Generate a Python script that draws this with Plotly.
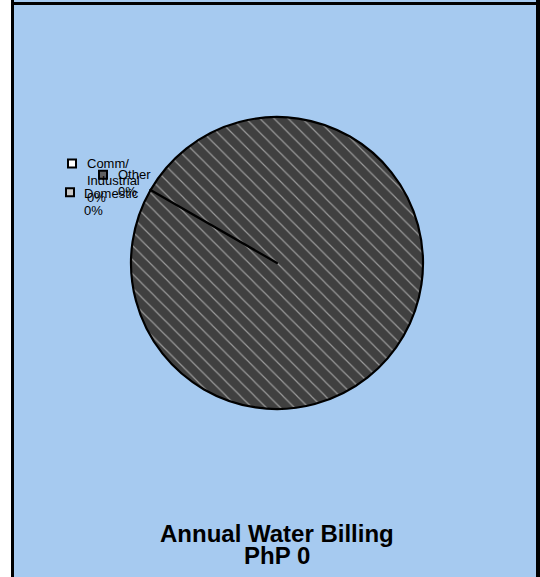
import plotly.graph_objects as go

# ---- data ----
categories = ["Comm/Industrial", "Other", "Domestic"]
billing_php = [0, 0, 0]              # annual billing per category (PhP)
share_labels = ["0%", "0%", "0%"]    # data label percentages as shown
drawn_share = [0, 1, 0]              # slice sizes as drawn (whole disc is "Other")
slice_colors = ["#FFFFFF", "#404040", "#C0C0C0"]
slice_patterns = ["", "\\", ""]
label_lines = [["Comm/", "Industrial"], ["Other"], ["Domestic"]]
title_line = "Annual Water Billing"

W, H = 540, 577
BG = "#A6CAF0"

def px_x(x):
    return x / W

def px_y(y):
    return 1 - y / H

fig = go.Figure()

fig.add_trace(go.Pie(
    labels=categories,
    values=drawn_share,
    sort=False,
    direction="clockwise",
    rotation=-60,
    textinfo="none",
    hoverinfo="label",
    showlegend=False,
    marker=dict(
        colors=slice_colors,
        line=dict(color="#000000", width=2.2),
        pattern=dict(shape=slice_patterns, fgcolor="#9A9A9A", bgcolor=slice_colors,
                     fillmode="replace", size=10, solidity=0.12),
    ),
    domain=dict(x=[px_x(131), px_x(423)], y=[px_y(409), px_y(117)]),
))

shapes = []
# frame pieces
shapes.append(dict(type="rect", xref="paper", yref="paper", x0=0, x1=px_x(11), y0=0, y1=1,
                   fillcolor="#FFFFFF", line=dict(width=0), layer="below"))
shapes.append(dict(type="rect", xref="paper", yref="paper", x0=px_x(11), x1=px_x(14), y0=0, y1=1,
                   fillcolor="#000000", line=dict(width=0)))
shapes.append(dict(type="rect", xref="paper", yref="paper", x0=px_x(11), x1=px_x(536), y0=px_y(5), y1=px_y(2),
                   fillcolor="#000000", line=dict(width=0)))
shapes.append(dict(type="rect", xref="paper", yref="paper", x0=px_x(536), x1=1, y0=0, y1=1,
                   fillcolor="#000000", line=dict(width=0)))

# data labels with legend keys
key_pos = [(72, 163.5), (103, 174.7), (70, 192.3)]
key_inner = ["#FFFFFF", "#606060", "#C8C8C8"]
text_pos = [(84.5, 154), (115.5, 165), (82, 184)]
annotations = []
for i, cat in enumerate(categories):
    kx, ky = key_pos[i]
    shapes.append(dict(type="rect", xref="paper", yref="paper",
                       x0=px_x(kx - 4), x1=px_x(kx + 4), y0=px_y(ky + 4), y1=px_y(ky - 4),
                       fillcolor=key_inner[i], line=dict(color="#000000", width=2)))
    tx, ty = text_pos[i]
    txt = "<br>".join(label_lines[i] + [share_labels[i]])
    annotations.append(dict(xref="paper", yref="paper", x=px_x(tx), y=px_y(ty),
                            xanchor="left", yanchor="top", align="left", showarrow=False,
                            text=txt, font=dict(family="Liberation Sans, Arial", size=13, color="#000000")))

annotations.append(dict(xref="paper", yref="paper", x=px_x(277), y=px_y(533), xanchor="center",
                        yanchor="middle", showarrow=False, text="<b>%s</b>" % title_line,
                        font=dict(family="Liberation Sans, Arial", size=24, color="#000000")))
annotations.append(dict(xref="paper", yref="paper", x=px_x(277), y=px_y(555), xanchor="center",
                        yanchor="middle", showarrow=False, text="<b>PhP %s</b>" % f"{sum(billing_php):,}",
                        font=dict(family="Liberation Sans, Arial", size=24, color="#000000")))

fig.update_layout(
    width=W, height=H,
    margin=dict(l=0, r=0, t=0, b=0),
    paper_bgcolor=BG,
    plot_bgcolor=BG,
    shapes=shapes,
    annotations=annotations,
)

fig.write_html("out.html", config={"displayModeBar": False},
               post_script="document.body.style.margin='0';document.body.style.overflow='hidden';")
